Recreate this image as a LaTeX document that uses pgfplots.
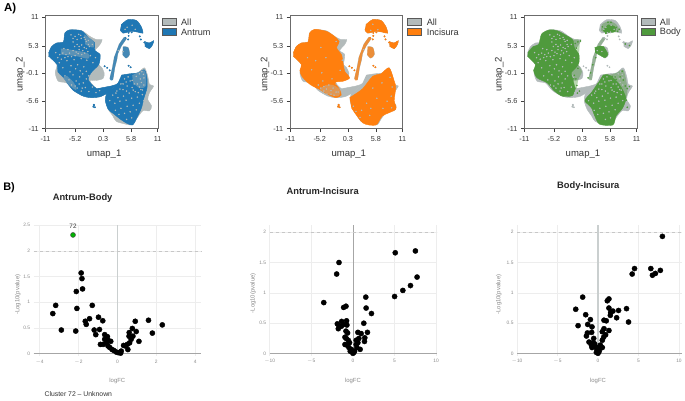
\documentclass[border=0pt]{standalone}
\usepackage{pgfplots}
\usepackage{pgfplotstable}
\usepackage{fontspec}
\setmainfont{Liberation Sans}
\pgfplotsset{compat=1.18}
\definecolor{allgray}{HTML}{B3BBBB}
\definecolor{cblue}{HTML}{1F77B4}
\definecolor{corange}{HTML}{FF7F0E}
\definecolor{cgreen}{HTML}{4F9A3D}
\definecolor{ticktxt}{HTML}{333333}
\definecolor{vtxt}{HTML}{8A8A8A}
\tikzset{vlab/.style={font=\fontsize{6}{7}\selectfont,text=vtxt}}

% ---- UMAP outlines (data coordinates)
\pgfplotstableread{
x y
-10.4 3.9
-9.8 5.2
-8.8 5.9
-7.5 6.1
-7.2 7.85
-6.2 8.5
-3.9 8.3
-2.3 7.2
-1 6.55
0.1 6.55
-0.35 5.55
-1.3 4.4
-0.3 3.6
-0.55 1.65
0 1.1
0.5 0
0.3 -1.1
-1 -1.5
-2.3 -1.6
-1 -3.1
0.6 -3.1
0 -4.6
-2 -4.9
-3.6 -4.6
-5.5 -3.5
-6.85 -2
-8.5 -1.65
-9.1 0
-8.8 1.65
-10.4 3.3
}\allLeft
\pgfplotstableread{
x y
3.9 -0.45
5.5 -0.2
7.1 0
8.4 1
9.05 -0.65
9.4 -2.3
10.2 -2.6
9.4 -3.9
9.05 -5.25
9.8 -6.55
9.4 -7.5
8.1 -7.5
6.8 -9.15
6.1 -10.3
4.8 -10.15
2.9 -9.6
2.2 -8.5
1.3 -7.2
0.75 -5.55
0.95 -4.25
2.2 -3.1
3.2 -2
}\allRight
\pgfplotstableread{
x y
-0.7 -3.1
1.9 -2.6
2.9 -2.3
1.3 -3.95
0 -4.6
}\connector
\pgfplotstableread{
x y
3.85 9.5
5.15 10.5
6.8 10.35
7.75 9.15
8.1 7.85
7.1 8.05
5.8 8.2
4.2 7.85
3.65 8.5
}\topBlob
\pgfplotstableread{
x y
8.4 6.2
9.4 5.9
10.2 6.35
10 5.55
9.4 4.8
8.5 5.25
}\topSmall
\pgfplotstableread{
x y
3.4 5.6
4.4 7
4.9 6.8
3.9 5.3
3.2 3.8
3 2.6
2.6 1
2.2 -1.4
1.6 -1.2
2.1 1
2.5 3.2
}\strand
\pgfplotstableread{
x y
4.2 5.2
5.2 5
5.5 3.6
4.8 2.9
4.1 3.6
}\midCluster
\pgfplotstableread{
x y
4.65 6.9
5.3 7.3
5.3 7.9
5.9 8.0
5.2 6.6
5.3 1.4
5.7 1.1
7.7 6.6
7.5 7.2
8.4 6.0
-1.5 -6.3
-1.6 -6.7
-1.3 -6.8
-1.5 -6.5
0.6 1.3
1.1 1.0
1.6 0.5
}\strandDots

% ---- coloured regions
\pgfplotstableread{
x y
-10.4 3.9
-9.8 5.2
-8.8 5.9
-7.5 6.1
-7.2 7.85
-6.2 8.5
-3.9 8.3
-2.6 7
-1.4 6
-1.3 4.4
-0.3 3.6
-0.55 1.65
-2 0.1
-2.6 -1.4
-1 -3.1
0.6 -3.1
0 -4.6
-2 -4.9
-3.6 -4.6
-5.5 -3.5
-6.6 -2.2
-7.6 -0.8
-8.6 0.2
-8.7 1.6
-10.4 3.3
}\antLeft
\pgfplotstableread{
x y
3.9 -0.45
5.5 -0.2
7.1 0
8.4 0.6
8.9 -1
8.9 -3
8.3 -5
7.8 -7
6.8 -9.15
6.1 -10.3
5 -10
3.6 -9.1
2.5 -8.2
1.3 -7.2
0.75 -5.55
0.95 -4.25
2.2 -3.1
3.2 -2
}\antRight
\pgfplotstableread{
x y
-10.4 3.9
-9.8 5.2
-8.8 5.9
-7.5 6.1
-7.2 7.85
-6.2 8.6
-3.9 8.2
-2.3 7.2
-1.4 6.2
-1.9 5
-1.5 4.3
-0.9 3.5
-0.6 1.7
-0.3 0.3
0.65 -1
-0.6 -1.65
-2.2 -1.9
-1.3 -3.3
-1 -4.4
-2 -4.9
-3.55 -4.3
-5.2 -3.3
-7.1 -2.3
-8.7 -0.7
-9.1 0.5
-8.8 1.65
-10.4 3.3
}\incLeft
\pgfplotstableread{
x y
0.65 -4.9
1.6 -4.3
3.25 -3.1
5.2 -0.65
6.8 -0.2
8.4 1
9.4 -1.6
9.7 -2.9
9.4 -5.5
9.7 -7.2
7.1 -8.5
5.8 -10.3
3.25 -9.9
1 -6.9
}\incRight
\pgfplotstableread{
x y
-10.3 4
-9.3 5.2
-8.2 5.6
-7.6 7.7
-6 8.5
-4.5 8.3
-2.8 7.4
-1.5 6.5
-1.2 5
-0.3 3.6
-0.3 2
-0.9 1
-1.8 0
-1.4 -1.5
-1.2 -2.5
-1 -3
-1.6 -4.5
-3.6 -4.6
-5.2 -3.5
-6.5 -2
-8.5 -1
-9.2 0.5
-8.8 1.6
-10.4 3.3
}\bodyLeft
\pgfplotstableread{
x y
4.4 -0.45
5.7 -0.45
7.65 -2.3
8.9 -4.9
8.3 -6.9
7 -8.5
6.35 -10.3
3.75 -10.15
2.8 -8.5
2.15 -6.9
0.85 -5.55
1.5 -4.6
2.15 -3.9
3.45 -2
}\bodyRight
\pgfplotstableread{
x y
5.4 9.5
6.7 9.15
6.85 8.2
5.05 7.85
4.4 8.5
}\bodyTop
\pgfplotstableread{
x y
2.8 5
3.9 5.3
4.5 5.2
5.4 3.7
4.8 3
3.6 3.6
2.9 4
}\bodyMid

% ---- speckle
\pgfplotstableread{
x y
-9 4
-8.2 3.6
-7.6 3.9
-7 3.6
-6.3 3.9
-5.6 4.4
-5 4.1
-4.4 4.6
-3.7 4.4
-3 4.8
-2.4 5.2
-1.8 5.6
-6 7.5
-5.2 7.2
-4.5 7.6
-4 6.8
-3.4 7
-3 6.2
-5.6 6.1
-4.8 5.6
-3.9 5.5
-2.6 6.4
-8.3 2
-7.6 1
-6.8 2.4
-6 1.4
-5.4 2.6
-4.7 1.6
-4 2.8
-3.5 1.2
-2.9 2.5
-2.2 3.4
-1.7 2
-1.2 3
-3 0.3
-2.5 -0.6
-7.2 -0.6
-6.4 -1.4
-5.6 -0.4
-5 -1.6
-4.3 -0.8
-3.6 -2
-3 -1.2
-4.8 -3
-4 -3.6
-3.2 -2.9
-2.5 -3.7
-1.8 -2.8
-1.1 -3.9
-0.4 -3.5
3 -3.6
3.8 -2.2
4.5 -1.2
5.2 -0.8
6 -1.5
6.8 -0.7
7.6 -1.2
8.2 -0.3
7 -2.2
6 -2.9
5 -2.6
4.2 -3.3
8.3 -2.4
7.7 -3.3
6.6 -3.7
5.4 -4
4.3 -4.6
3.2 -4.9
2.2 -4.4
1.6 -5.5
2.6 -6
3.6 -5.6
4.8 -5.4
5.9 -5
7 -4.8
8 -4.3
8.3 -5.5
7.4 -6
6.2 -6.4
5 -6.6
3.8 -7
2.7 -7.4
3.4 -8.2
4.5 -8
5.6 -7.7
6.8 -7.3
5.9 -8.9
4.9 -9.2
5 9
6 9.4
6.6 8.6
4.6 8.6
3.3 4.4
4.2 4.2
-8.6 3
-7.9 2.7
-7.2 3
-6.6 3.2
-5.9 3.2
-5.2 3.4
-4.6 3.8
-3.9 3.6
-3.3 3.9
-2.7 4.2
-6.6 4.6
-7.4 4.8
-5.3 5.2
-4.4 5.2
-3.4 5
-2.6 5.6
-5.6 6.8
-4.8 6.6
-4.1 7.4
-3.2 6.6
-6.2 0.2
-5.1 0.8
-4.2 0.4
-3.7 -0.2
-5.9 -2.4
-5.2 -2.6
-4.4 -2.2
-3.8 -3
7.4 -0.2
7.9 0.2
8.3 -1
7.8 -1.9
7.4 -2.8
6.4 -2.2
5.6 -1.6
4.8 -1.8
4.2 -2.2
3.6 -3.2
2.8 -4
8 -3.4
7.2 -3.9
6.2 -3.4
4.9 -3.6
}\speck
\pgfplotstableread{
x y
-5 -3
-4.4 -3.6
-3.8 -4.2
-3 -3.5
-2.4 -4.4
-1.6 -3.8
-3.4 -2.4
-4.6 -1.6
-2.8 -1.2
-1.2 0.5
-0.8 2.5
-1.4 4.8
-2 6.2
-6 2.4
-6.8 0.6
-7.6 3
-5 5
-4 3
-4.8 0
1.4 -6.6
1.9 -7.6
2.7 -8.8
8.6 -0.9
9 -2.8
8.8 -4.6
8.9 -6.9
6 -5
4 -6
5.2 -3
7 -2
4.6 -8.4
5.2 9.6
6.2 8.5
4.8 8.4
3.4 4.6
-5.5 -2.4
-3.9 -3.2
-2.6 -3
-2 -3.8
-3 -4.2
-4.4 -2.7
-2 -2.2
8 -5.6
7.2 -7
3 -7.4
4.8 -7
}\specI
\pgfplotstableread{
x y
-1 5.8
-0.8 4.9
-0.6 3
-1 2.4
-0.9 1.4
-0.5 0.9
-1.2 -0.5
-0.9 -1.2
-0.7 -2.5
-0.2 -3.6
-0.6 -4
0 6.3
-0.5 6.1
-1.3 -1.2
1.5 -1
2 0
2.4 1.6
3 3
7.8 -0.8
8.4 -1.4
8.8 -2.6
9.2 -3.1
8.2 0.3
6.8 -0.8
6.2 -0.7
7 -1.3
9 -5.4
9.2 -6.8
8.2 -3.8
9.6 -2.7
5 7.8
6 10
7 9
7.6 8.6
8.8 5.7
9.6 5.4
5.4 10
4.3 9.1
7.3 8.2
}\specB

\newcommand{\allLayer}{%
  \addplot[fill=allgray,draw=allgray,smooth,tension=0.45] table {\allLeft};
  \addplot[fill=allgray,draw=allgray,smooth,tension=0.45] table {\allRight};
  \addplot[fill=allgray,draw=allgray] table {\connector};
  \addplot[fill=allgray,draw=allgray,smooth,tension=0.45] table {\topBlob};
  \addplot[fill=allgray,draw=allgray,smooth,tension=0.45] table {\topSmall};
  \addplot[fill=allgray,draw=allgray] table {\strand};
  \addplot[fill=allgray,draw=allgray,smooth,tension=0.45] table {\midCluster};
  \addplot[only marks,mark=*,mark size=0.7pt,color=allgray] table {\strandDots};
}
\newcommand{\blob}[2]{\addplot[fill=#1,draw=#1,smooth,tension=0.45] table {#2};}

\pgfplotsset{
  umap/.style={
    scale only axis, width=113.4pt, height=113.4pt, anchor=south west,
    xmin=-11, xmax=11.1, ymin=-11, ymax=11.25,
    xtick={-11,-5.2,0.3,5.8,11}, ytick={-11,-5.6,-0.1,5.3,11},
    xticklabels={-11,-5.2,0.3,5.8,11}, yticklabels={-11,-5.6,-0.1,5.3,11},
    minor x tick num=2, minor y tick num=2,
    tick align=outside, tick pos=left,
    major tick length=3.5pt, minor tick length=2pt,
    tick style={draw=black!75,line width=0.5pt},
    axis line style={draw=black!58,line width=1pt},
    ticklabel style={font=\fontsize{7.3}{8}\selectfont,text=ticktxt},
    /pgf/number format/assume math mode=true,
    xticklabel style={yshift=-1pt},
    xlabel=umap\_1, ylabel=umap\_2,
    every axis x label/.style={at={(axis description cs:0.52,0)},anchor=center,yshift=-25.5pt,font=\fontsize{9.6}{11}\selectfont,text=ticktxt},
    every axis y label/.style={at={(axis description cs:0,0.48)},anchor=center,rotate=90,yshift=25.3pt,font=\fontsize{9.6}{11}\selectfont,text=ticktxt},
    clip=true,
  },
  volc/.style={
    scale only axis, anchor=south west,
    axis line style={draw=none},
    major tick length=0pt, tick style={draw=none},
    grid=major, major grid style={draw=black!7,line width=0.4pt},
    ticklabel style={font=\fontsize{4.9}{5.5}\selectfont,text=vtxt},
    /pgf/number format/assume math mode=true,
    xlabel=logFC, ylabel={-Log10(pvalue)},
    clip=false,
  },
  dotp/.style={only marks,mark=*,mark size=2.6pt,mark options={fill=black,draw=black}},
  hazy/.style={fill=#1,draw=none,fill opacity=0.4,smooth,tension=0.5},
}

\begin{document}
\begin{tikzpicture}
\path (0pt,0pt) rectangle (685pt,399pt);

% ===== A
\begin{axis}[umap, at={(43.7pt,271.3pt)}]
  \allLayer
  \blob{cblue}{\antLeft}
  \blob{cblue}{\antRight}
  \addplot[fill=cblue,draw=cblue] table {\connector};
  \blob{cblue}{\topBlob}
  \blob{cblue}{\topSmall}
  \addplot[hazy=cblue,fill opacity=0.75] table {\strand};
  \addplot[hazy=cblue,fill opacity=0.75] table {\midCluster};
  \addplot[only marks,mark=*,mark size=0.7pt,color=cblue] table {\strandDots};
  \addplot[hazy=allgray] coordinates {(-8,4.8) (-5,4.4) (-2.6,3.8) (-2.6,2.8) (-5,3.3) (-8,3.6)};
  \addplot[hazy=allgray] coordinates {(-3.4,7.6) (-1.6,6.3) (-1.6,5) (-3.2,5.6)};
  \addplot[hazy=allgray] coordinates {(6,-0.5) (8.4,0.5) (8.7,-2.5) (7.5,-3) (6.2,-2)};
  \addplot[hazy=allgray] coordinates {(-7.6,-1) (-6.4,-2.4) (-5,-3.4) (-5.4,-2) (-6.8,-0.6)};
  \addplot[only marks,mark=*,mark size=0.5pt,color=allgray] table {\speck};
\end{axis}
\begin{axis}[umap, at={(290pt,271.3pt)}]
  \allLayer
  \blob{corange}{\incLeft}
  \blob{corange}{\incRight}
  \blob{corange}{\topBlob}
  \blob{corange}{\topSmall}
  \addplot[hazy=corange,fill opacity=0.75] table {\strand};
  \addplot[hazy=corange,fill opacity=0.75] table {\midCluster};
  \addplot[only marks,mark=*,mark size=0.7pt,color=corange] table {\strandDots};
  \addplot[hazy=allgray] coordinates {(-5.3,-3.2) (-3.6,-4.2) (-1.6,-4.6) (-1.2,-3.4) (-2.6,-2.4) (-4,-2.4)};
  \addplot[only marks,mark=*,mark size=0.5pt,color=allgray] table {\specI};
\end{axis}
\begin{axis}[umap, at={(525.7pt,271.3pt)}]
  \allLayer
  \addplot[hazy=cgreen] coordinates {(-1.5,6.5) (-0.2,6.4) (-0.3,3.6) (-0.4,1.6) (0.3,0.3) (-0.4,-1.3) (-0.8,-3.2) (-1.4,-3) (-1.2,-1) (-1.8,0) (-0.9,1) (-0.5,2.5) (-1.2,5)};
  \addplot[hazy=cgreen] coordinates {(5.7,-0.4) (7.1,0) (8.4,0.6) (9,-1.6) (9.2,-3.4) (8.9,-4.9) (7.65,-2.3)};
  \addplot[hazy=cgreen] coordinates {(4.2,9.6) (5.6,10.2) (7,9.6) (7.6,8.4) (6.8,8) (5,7.9) (4,8.4)};
  \addplot[hazy=cgreen,fill opacity=0.3] table {\strand};
  \blob{cgreen}{\bodyLeft}
  \blob{cgreen}{\bodyRight}
  \blob{cgreen}{\bodyTop}
  \blob{cgreen}{\bodyMid}
  \addplot[only marks,mark=*,mark size=0.5pt,color=allgray] table {\speck};
  \addplot[only marks,mark=*,mark size=0.6pt,color=cgreen] table {\specB};
\end{axis}

% legends
\foreach \lx/\tx/\cc/\nm in {161.5/180/cblue/Antrum, 408.3/427.3/corange/Incisura, 643.7/662/cgreen/Body}{
  \draw[black!65,line width=0.6pt,fill=allgray] (\lx pt,382.4pt) rectangle ++(13.4pt,-7.6pt);
  \draw[black!65,line width=0.6pt,fill=\cc] (\lx pt,372.4pt) rectangle ++(13.4pt,-7.6pt);
  \node[anchor=west,inner sep=0pt,font=\fontsize{9.2}{10}\selectfont,text=ticktxt] at (\tx pt,378.3pt) {All};
  \node[anchor=west,inner sep=0pt,font=\fontsize{9.2}{10}\selectfont,text=ticktxt] at (\tx pt,368.3pt) {\nm};
}

% ===== B1
\begin{axis}[volc, at={(31.8pt,42.1pt)}, width=168.4pt, height=131.9pt,
  xmin=-4.3, xmax=4.3, ymin=-0.05, ymax=2.5,
  xtick={-4,-2,0,2,4}, xticklabels={$-$4,$-$2,0,2,4},
  ytick={0,0.5,1,1.5,2,2.5}, yticklabels={0,0.5,1,1.5,2,2.5},
  every axis x label/.style={vlab,at={(axis cs:0,-0.05)},anchor=center,yshift=-24.8pt},
  every axis y label/.style={vlab,at={(axis description cs:0,0.47)},anchor=center,rotate=90,yshift=16pt}]
  \addplot[allgray!70!white,line width=1.6pt] coordinates {(0,-0.05) (0,2.5)};
  \addplot[black!35,line width=0.9pt] coordinates {(-4.3,0) (4.3,0)};
  \addplot[black!22,dashed,line width=0.7pt] coordinates {(-4.3,2) (4.3,2)};
  \addplot[dotp] coordinates {
    (-1.86,1.57) (-1.82,1.46) (-1.79,1.26) (-2.11,1.21) (-3.17,0.94) (-3.32,0.78) (-2.08,0.88)
    (-1.29,0.94) (-2.88,0.46) (-2.14,0.44) (-1.43,0.68) (-1.65,0.63) (-1.6,0.57) (-0.97,0.71)
    (-0.75,0.64) (-0.92,0.47) (-1.19,0.46) (-1.11,0.37) (-0.87,0.18) (-0.73,0.18) (-0.65,0.37)
    (-0.51,0.33) (-0.65,0.28) (-0.48,0.26) (-0.34,0.24) (-0.56,0.21) (-0.48,0.15) (-0.39,0.12)
    (-0.27,0.08) (-0.17,0.06) (-0.05,0.03) (0.07,0.02) (0.17,0.01) (0.2,0.05) (0.32,0.16)
    (0.51,0.18) (0.63,0.21) (0.54,0.08) (0.6,0.34) (0.61,0.41) (0.77,0.49) (0.8,0.34)
    (0.71,0.28) (0.97,0.43) (0.92,0.63) (1.11,0.24) (1.6,0.65) (1.8,0.4) (2.31,0.56) (0.41,0.15)};
  \addplot[only marks,mark=*,mark size=2.5pt,mark options={fill=green!70!black,draw=black!70,line width=0.5pt}] coordinates {(-2.28,2.31)};
  \node[font=\fontsize{6.4}{7}\selectfont,text=ticktxt] at (axis cs:-2.28,2.47) {72};
\end{axis}

% ===== B2
\begin{axis}[volc, at={(269.3pt,42.3pt)}, width=168pt, height=131.7pt,
  xmin=-10, xmax=10.05, ymin=-0.04, ymax=2.114,
  xtick={-10,-5,0,5,10}, xticklabels={$-$10,$-$5,0,5,10},
  ytick={0,0.5,1,1.5,2}, yticklabels={0,0.5,1,1.5,2},
  every axis x label/.style={vlab,at={(axis cs:0,-0.04)},anchor=center,yshift=-24.8pt},
  every axis y label/.style={vlab,at={(axis description cs:0,0.48)},anchor=center,rotate=90,yshift=16.6pt}]
  \addplot[black!35,line width=0.7pt] coordinates {(0,-0.04) (0,2.114)};
  \addplot[black!35,line width=0.9pt] coordinates {(-10,0) (10.05,0)};
  \addplot[black!22,dashed,line width=0.7pt] coordinates {(-10,2) (10.05,2)};
  \addplot[dotp] coordinates {
    (5.09,1.66) (7.51,1.69) (-1.67,1.5) (-1.95,1.31) (7.71,1.26) (6.92,1.12) (6,1.04) (5.01,0.94)
    (1.55,0.93) (-3.5,0.84) (-1.11,0.76) (-0.83,0.78) (1.59,0.75) (2.23,0.66) (1.31,0.5) (-0.76,0.54)
    (-1.35,0.53) (-1.87,0.49) (-1.67,0.46) (-1.75,0.41) (-1.39,0.45) (-0.72,0.47) (-1.11,0.48)
    (-0.83,0.37) (-0.64,0.34) (0.6,0.35) (0.99,0.33) (1.75,0.35) (1.43,0.26) (1.39,0.2) (0.72,0.25)
    (0.4,0.22) (-0.95,0.27) (-0.8,0.25) (-0.56,0.22) (-0.95,0.15) (-0.72,0.14) (-0.4,0.18) (-0.48,0.1)
    (-0.2,0.07) (0,0.005) (0.2,0.04) (0.48,0.1) (0.87,0.07) (0.4,0.15) (0.6,0.18) (-0.08,0.03) (-0.32,0.04) (0.12,0.02)};
\end{axis}

% ===== B3
\begin{axis}[volc, at={(518.3pt,42.3pt)}, width=166.3pt, height=131.7pt,
  xmin=-10, xmax=10.4, ymin=-0.04, ymax=2.114,
  xtick={-10,-5,0,5,10}, xticklabels={$-$10,$-$5,0,5,10},
  ytick={0,0.5,1,1.5,2}, yticklabels={0,0.5,1,1.5,2},
  every axis x label/.style={vlab,at={(axis cs:0,-0.04)},anchor=center,yshift=-24.8pt},
  every axis y label/.style={vlab,at={(axis description cs:0,0.47)},anchor=center,rotate=90,yshift=18.3pt}]
  \addplot[allgray!70!white,line width=1.6pt] coordinates {(0,-0.04) (0,2.114)};
  \addplot[black!35,line width=0.9pt] coordinates {(-10,0) (10.4,0)};
  \addplot[black!22,dashed,line width=0.7pt] coordinates {(-10,2) (10.4,2)};
  \addplot[dotp] coordinates {
    (7.95,1.93) (4.51,1.4) (4.22,1.31) (6.52,1.4) (7.7,1.37) (7.09,1.32) (6.72,1.29) (-1.89,0.93)
    (1.35,0.9) (1.15,0.87) (-2.75,0.73) (1.35,0.75) (3.52,0.74) (2.54,0.71) (1.84,0.7) (1.56,0.68)
    (1.52,0.63) (2.3,0.59) (-1.52,0.64) (-0.94,0.56) (0.74,0.55) (1.02,0.54) (3.77,0.52) (-1.27,0.48)
    (-2.46,0.46) (-0.74,0.44) (0.74,0.41) (1.35,0.38) (-0.78,0.35) (0.53,0.36) (-1.31,0.34) (-1.43,0.29)
    (0.94,0.31) (0.7,0.27) (0.53,0.22) (-0.53,0.25) (-1.11,0.19) (-0.61,0.18) (-0.82,0.14) (-0.41,0.16)
    (0.29,0.14) (0.53,0.1) (-0.74,0.1) (-0.33,0.11) (0,0.1) (-0.12,0.06) (0.2,0.07) (0,0.005) (-0.2,0.02) (0.12,0.03)};
\end{axis}

% ===== text
\node[anchor=center,font=\bfseries\fontsize{11.5}{12}\selectfont] at (8pt,392pt) {A)};
\node[anchor=center,font=\bfseries\fontsize{11}{12}\selectfont] at (7pt,212pt) {B)};
\node[font=\bfseries\fontsize{9.4}{10}\selectfont,text=black!85] at (81pt,201pt) {Antrum-Body};
\node[font=\bfseries\fontsize{9.4}{10}\selectfont,text=black!85] at (322.7pt,208pt) {Antrum-Incisura};
\node[font=\bfseries\fontsize{9.4}{10}\selectfont,text=black!85] at (590pt,213pt) {Body-Incisura};
\node[font=\fontsize{6.9}{8}\selectfont,text=black!80] at (76.7pt,3.6pt) {Cluster 72 -- Unknown};
\end{tikzpicture}
\end{document}
